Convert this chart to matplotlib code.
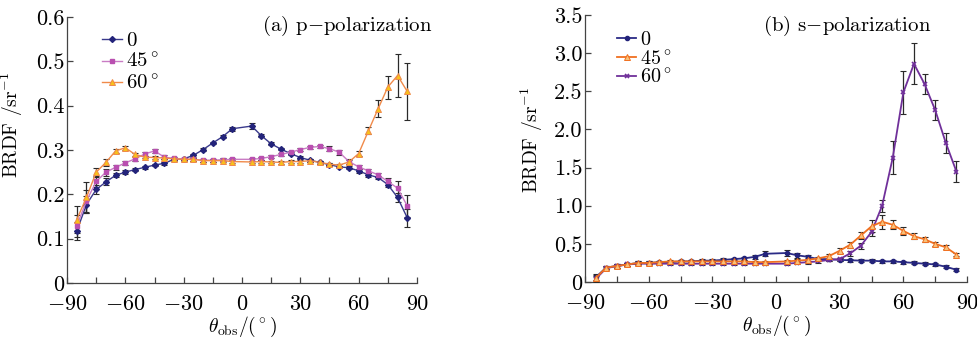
#!/usr/bin/env python3
"""BRDF vs observation angle, p- and s-polarization side by side."""

import matplotlib
matplotlib.use("Agg")
import matplotlib.pyplot as plt
from matplotlib.ticker import FixedLocator, MultipleLocator

plt.rcParams["font.family"] = ["cmr10", "DejaVu Serif"]
plt.rcParams["mathtext.fontset"] = "cm"
plt.rcParams["axes.unicode_minus"] = False

# observation angles (no point at 0, that's where the beam sits)
theta = [-85, -80, -75, -70, -65, -60, -55, -50, -45, -40, -35, -30, -25,
         -20, -15, -10, -5, 5, 10, 15, 20, 25, 30, 35, 40, 45, 50, 55, 60,
         65, 70, 75, 80, 85]

# ---- (a) p-polarization ----
p_0 = [0.117, 0.177, 0.211, 0.228, 0.243, 0.250, 0.256, 0.261, 0.266, 0.270,
       0.279, 0.280, 0.288, 0.301, 0.316, 0.330, 0.348, 0.354, 0.332, 0.314,
       0.302, 0.292, 0.283, 0.277, 0.272, 0.267, 0.262, 0.260, 0.253, 0.244,
       0.238, 0.222, 0.193, 0.147]
p_0_err = [0.020, 0.020, 0.010, 0.008, 0.005, 0.004, 0.004, 0.003, 0.003, 0.003,
           0.003, 0.003, 0.003, 0.003, 0.003, 0.003, 0.005, 0.006, 0.003, 0.003,
           0.003, 0.003, 0.003, 0.003, 0.003, 0.003, 0.003, 0.003, 0.004, 0.004,
           0.004, 0.006, 0.010, 0.021]
p_45 = [0.129, 0.185, 0.229, 0.250, 0.261, 0.271, 0.280, 0.291, 0.298, 0.284,
        0.281, 0.280, 0.279, 0.277, 0.277, 0.278, 0.279, 0.279, 0.281, 0.285,
        0.290, 0.295, 0.301, 0.306, 0.308, 0.303, 0.295, 0.274, 0.262, 0.253,
        0.244, 0.229, 0.214, 0.174]
p_45_err = [0.025, 0.025, 0.012, 0.008, 0.005, 0.004, 0.004, 0.004, 0.004, 0.004,
            0.003, 0.003, 0.003, 0.003, 0.003, 0.003, 0.003, 0.003, 0.003, 0.003,
            0.003, 0.003, 0.003, 0.004, 0.004, 0.005, 0.006, 0.005, 0.005, 0.005,
            0.005, 0.008, 0.015, 0.025]
p_60 = [0.143, 0.193, 0.250, 0.272, 0.298, 0.305, 0.290, 0.284, 0.283, 0.282,
        0.280, 0.279, 0.279, 0.276, 0.276, 0.276, 0.274, 0.273, 0.274, 0.273,
        0.272, 0.274, 0.274, 0.276, 0.272, 0.268, 0.266, 0.273, 0.292, 0.343,
        0.393, 0.442, 0.468, 0.432]
p_60_err = [0.030, 0.035, 0.010, 0.008, 0.004, 0.004, 0.004, 0.003, 0.003, 0.003,
            0.003, 0.003, 0.003, 0.003, 0.003, 0.003, 0.003, 0.003, 0.003, 0.003,
            0.003, 0.003, 0.003, 0.003, 0.003, 0.003, 0.003, 0.004, 0.005, 0.008,
            0.019, 0.026, 0.048, 0.064]

# ---- (b) s-polarization ----
s_0 = [0.06, 0.19, 0.21, 0.23, 0.25, 0.25, 0.26, 0.26, 0.27, 0.27,
       0.28, 0.28, 0.29, 0.30, 0.31, 0.33, 0.37, 0.38, 0.35, 0.33,
       0.30, 0.30, 0.29, 0.285, 0.28, 0.28, 0.27, 0.27, 0.26, 0.25,
       0.24, 0.23, 0.20, 0.16]
s_0_err = [0.04, 0.02, 0.02, 0.02, 0.02, 0.02, 0.02, 0.02, 0.02, 0.02,
           0.02, 0.02, 0.02, 0.02, 0.02, 0.03, 0.03, 0.04, 0.03, 0.03,
           0.02, 0.02, 0.02, 0.02, 0.02, 0.02, 0.02, 0.02, 0.02, 0.02,
           0.02, 0.02, 0.02, 0.02]
s_45 = [0.05, 0.19, 0.21, 0.23, 0.25, 0.25, 0.26, 0.27, 0.27, 0.27,
        0.27, 0.27, 0.27, 0.27, 0.27, 0.26, 0.26, 0.27, 0.28, 0.29,
        0.31, 0.34, 0.41, 0.49, 0.61, 0.73, 0.79, 0.75, 0.67, 0.60,
        0.56, 0.50, 0.455, 0.36]
s_45_err = [0.04, 0.02, 0.02, 0.02, 0.02, 0.02, 0.02, 0.02, 0.02, 0.02,
            0.02, 0.02, 0.02, 0.02, 0.02, 0.02, 0.02, 0.02, 0.02, 0.02,
            0.02, 0.03, 0.03, 0.04, 0.05, 0.08, 0.09, 0.06, 0.05, 0.04,
            0.03, 0.03, 0.025, 0.02]
s_60 = [0.04, 0.18, 0.21, 0.23, 0.24, 0.24, 0.24, 0.24, 0.24, 0.24,
        0.24, 0.24, 0.24, 0.24, 0.24, 0.24, 0.24, 0.24, 0.25, 0.26,
        0.27, 0.29, 0.30, 0.376, 0.477, 0.656, 1.0, 1.63, 2.485, 2.86,
        2.594, 2.253, 1.824, 1.448]
s_60_err = [0.04, 0.02, 0.02, 0.02, 0.02, 0.02, 0.02, 0.02, 0.02, 0.02,
            0.02, 0.02, 0.02, 0.02, 0.02, 0.02, 0.02, 0.02, 0.02, 0.02,
            0.02, 0.02, 0.02, 0.03, 0.04, 0.05, 0.08, 0.22, 0.28, 0.27,
            0.13, 0.13, 0.13, 0.14]

series_labels = ["0", r"45$^\circ$", r"60$^\circ$"]

x_ticks = [-90, -60, -30, 0, 30, 60, 90]
x_tick_labels = [r"$-90$", r"$-60$", r"$-30$", "0", "30", "60", "90"]
p_yticks = [0, 0.1, 0.2, 0.3, 0.4, 0.5, 0.6]
p_ytick_labels = ["0", "0.1", "0.2", "0.3", "0.4", "0.5", "0.6"]
s_yticks = [0, 0.5, 1.0, 1.5, 2.0, 2.5, 3.0, 3.5]
s_ytick_labels = ["0", "0.5", "1.0", "1.5", "2.0", "2.5", "3.0", "3.5"]

fig = plt.figure(figsize=(9.77, 3.40), dpi=100)
ax1 = fig.add_axes([0.0686, 0.1676, 0.3582, 0.7824])
ax2 = fig.add_axes([0.5988, 0.1706, 0.3910, 0.7853])

ERR_KW = dict(fmt="none", ecolor="#2a2a2a", elinewidth=0.9,
              capsize=2.2, capthick=0.8, zorder=4)
LEG_KW = dict(loc="upper left", frameon=False,
              handlelength=0.95, handletextpad=0.2, borderaxespad=0,
              borderpad=0)


def style_axes(ax, yticks, ylabels, ymax):
    for side in ("top", "right"):
        ax.spines[side].set_visible(False)
    for side in ("left", "bottom"):
        ax.spines[side].set_linewidth(0.9)
        ax.spines[side].set_color("#444444")
    ax.set_xlim(-90, 90)
    ax.set_ylim(0, ymax)
    ax.xaxis.set_major_locator(FixedLocator(x_ticks))
    ax.set_xticklabels(x_tick_labels)
    ax.xaxis.set_minor_locator(MultipleLocator(15))
    ax.yaxis.set_major_locator(FixedLocator(yticks))
    ax.set_yticklabels(ylabels)
    ax.tick_params(axis="both", which="both", direction="in",
                   labelsize=16, color="#444444")
    ax.tick_params(axis="x", which="both", length=4, width=0.9, pad=8)
    ax.tick_params(axis="y", which="major", length=4, width=0.9, pad=2)
    ax.set_xlabel(r"$\theta_{\rm obs}/(^\circ)$", fontsize=14, labelpad=1)
    ax.set_ylabel("BRDF /sr$^{-1}$", fontsize=14)


# (a) p-pol
style_axes(ax1, p_yticks, p_ytick_labels, 0.6)
ax1.yaxis.set_label_coords(-0.12, 0.596)
ax1.errorbar(theta, p_0, yerr=p_0_err, **ERR_KW)
ax1.errorbar(theta, p_45, yerr=p_45_err, **ERR_KW)
ax1.errorbar(theta, p_60, yerr=p_60_err, **ERR_KW)
ax1.plot(theta, p_0, color="#3a3a8c", lw=1.0, marker="D", ms=3.0,
         mfc="#23237a", mec="#23237a", label=series_labels[0], zorder=5)
ax1.plot(theta, p_45, color="#c97cc4", lw=1.0, marker="s", ms=3.5,
         mfc="#b94fb0", mec="#b94fb0", label=series_labels[1], zorder=5)
ax1.plot(theta, p_60, color="#f08a4a", lw=1.0, marker="^", ms=4.0,
         mfc="#f7c21a", mec="#f08a4a", mew=0.7, label=series_labels[2],
         zorder=6)
ax1.legend(bbox_to_anchor=(0.1, 0.945), labelspacing=0.12, fontsize=15,
           **LEG_KW)
ax1.text(1.043, 0.966, r"(a) p$-$polarization", transform=ax1.transAxes,
         ha="right", va="center", fontsize=15)

# (b) s-pol
style_axes(ax2, s_yticks, s_ytick_labels, 3.5)
ax2.yaxis.set_label_coords(-0.105, 0.532)
ax2.errorbar(theta, s_0, yerr=s_0_err, **ERR_KW)
ax2.errorbar(theta, s_45, yerr=s_45_err, **ERR_KW)
ax2.errorbar(theta, s_60, yerr=s_60_err, **ERR_KW)
ax2.plot(theta, s_0, color="#2b2b86", lw=1.3, marker="o", ms=3.0,
         mfc="#23237a", mec="#23237a", label=series_labels[0], zorder=5)
ax2.plot(theta, s_45, color="#f07020", lw=1.3, marker="^", ms=3.8,
         mfc="#f7c27a", mec="#f07020", mew=0.7, label=series_labels[1],
         zorder=6)
ax2.plot(theta, s_60, color="#70309a", lw=1.3, marker="x", ms=3.3,
         mec="#70309a", mew=1.2, label=series_labels[2], zorder=5)
ax2.legend(bbox_to_anchor=(0.084, 0.94), labelspacing=0.0, fontsize=14.5,
           **LEG_KW)
ax2.text(0.906, 0.959, r"(b) s$-$polarization", transform=ax2.transAxes,
         ha="right", va="center", fontsize=15)

fig.savefig("out.png", dpi=100)
